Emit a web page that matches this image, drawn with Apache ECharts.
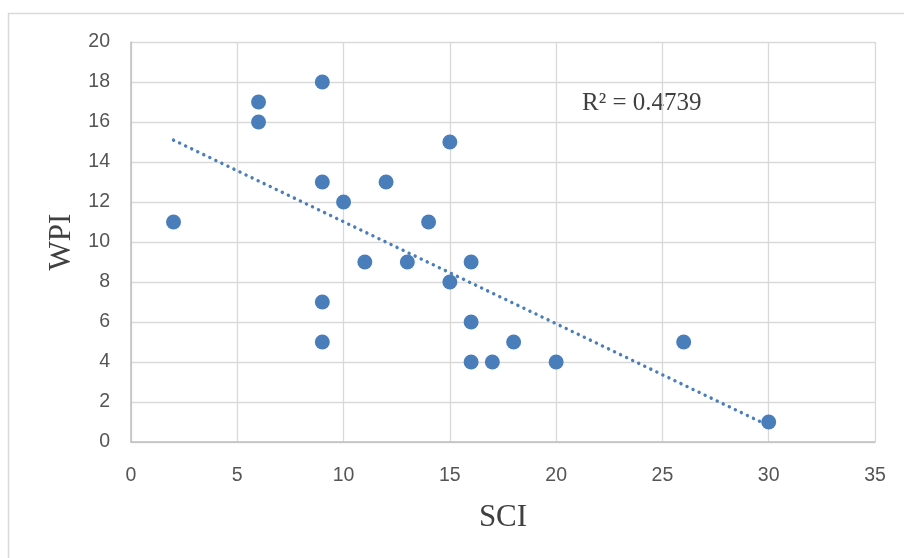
<!DOCTYPE html>
<html>
<head>
<meta charset="utf-8">
<script src="https://cdn.jsdelivr.net/npm/echarts@6/dist/echarts.min.js"></script>
<style>
  html, body { margin: 0; padding: 0; background: #fff; }
  #chart { width: 904px; height: 558px; }
</style>
</head>
<body>
<div id="chart"></div>
<script>
// SCI / WPI pairs
const sci = [2, 6, 6, 9, 9, 9, 9, 10, 11, 12, 13, 14, 15, 15, 16, 16, 16, 17, 18, 20, 26, 30];
const wpi = [11, 17, 16, 18, 13, 7, 5, 12, 9, 13, 9, 11, 15, 8, 9, 6, 4, 4, 5, 4, 5, 1];
const xTicks = [0, 5, 10, 15, 20, 25, 30, 35];
const yTicks = [0, 2, 4, 6, 8, 10, 12, 14, 16, 18, 20];

// least squares trend line (like Excel's linear trendline)
const n = sci.length;
const mx = sci.reduce((a, b) => a + b, 0) / n;
const my = wpi.reduce((a, b) => a + b, 0) / n;
let sxy = 0, sxx = 0, syy = 0;
for (let i = 0; i < n; i++) {
  sxy += (sci[i] - mx) * (wpi[i] - my);
  sxx += (sci[i] - mx) * (sci[i] - mx);
  syy += (wpi[i] - my) * (wpi[i] - my);
}
const slope = sxy / sxx;
const icept = my - slope * mx;
const r2 = (sxy * sxy) / (sxx * syy);
const xMin = Math.min(...sci), xMax = Math.max(...sci);
const trend = [[xMin, icept + slope * xMin], [xMax, icept + slope * xMax]];

const chart = echarts.init(document.getElementById('chart'));

const labelFont = '"Liberation Sans", "DejaVu Sans", sans-serif';
const serif = '"Liberation Serif", "DejaVu Serif", serif';

chart.setOption({
  animation: false,
  backgroundColor: '#fff',
  grid: { left: 131, right: 29, top: 42, bottom: 116 },
  graphic: [
    {
      type: 'rect',
      shape: { x: 8.5, y: 13.5, width: 2000, height: 2000 },
      style: { fill: 'none', stroke: '#d9d9d9', lineWidth: 1.5 },
      silent: true
    },
    {
      type: 'text',
      left: 582, top: 91,
      style: { text: 'R² = ' + r2.toFixed(4), font: '25px ' + serif, fill: '#404040' }
    }
  ],
  xAxis: {
    type: 'value',
    min: xTicks[0], max: xTicks[xTicks.length - 1], interval: 5,
    name: 'SCI', nameLocation: 'middle', nameGap: 60,
    nameTextStyle: { fontFamily: serif, fontSize: 31, color: '#404040' },
    axisLine: { show: true, lineStyle: { color: '#bfbfbf', width: 1.5 } },
    axisTick: { show: false },
    axisLabel: { color: '#555555', fontSize: 19.5, fontFamily: labelFont, margin: 24 },
    splitLine: { show: true, lineStyle: { color: '#d9d9d9', width: 1.3 } }
  },
  yAxis: {
    type: 'value',
    min: yTicks[0], max: yTicks[yTicks.length - 1], interval: 2,
    name: 'WPI', nameLocation: 'middle', nameGap: 47, nameRotate: 90,
    nameTextStyle: { fontFamily: serif, fontSize: 31, color: '#404040' },
    axisLine: { show: true, lineStyle: { color: '#bfbfbf', width: 1.5 } },
    axisTick: { show: false },
    axisLabel: { color: '#555555', fontSize: 19.5, fontFamily: labelFont, margin: 21 },
    splitLine: { show: true, lineStyle: { color: '#d9d9d9', width: 1.3 } }
  },
  series: [
    {
      type: 'line',
      data: trend,
      symbol: 'none',
      lineStyle: { color: '#4a7ebb', width: 3.4, type: [0.1, 6.6], cap: 'round' },
      silent: true,
      z: 1
    },
    {
      type: 'scatter',
      data: sci.map((x, i) => [x, wpi[i]]),
      symbolSize: 15,
      itemStyle: { color: '#4a7ebb', opacity: 1 },
      z: 2
    }
  ]
});
</script>
</body>
</html>
